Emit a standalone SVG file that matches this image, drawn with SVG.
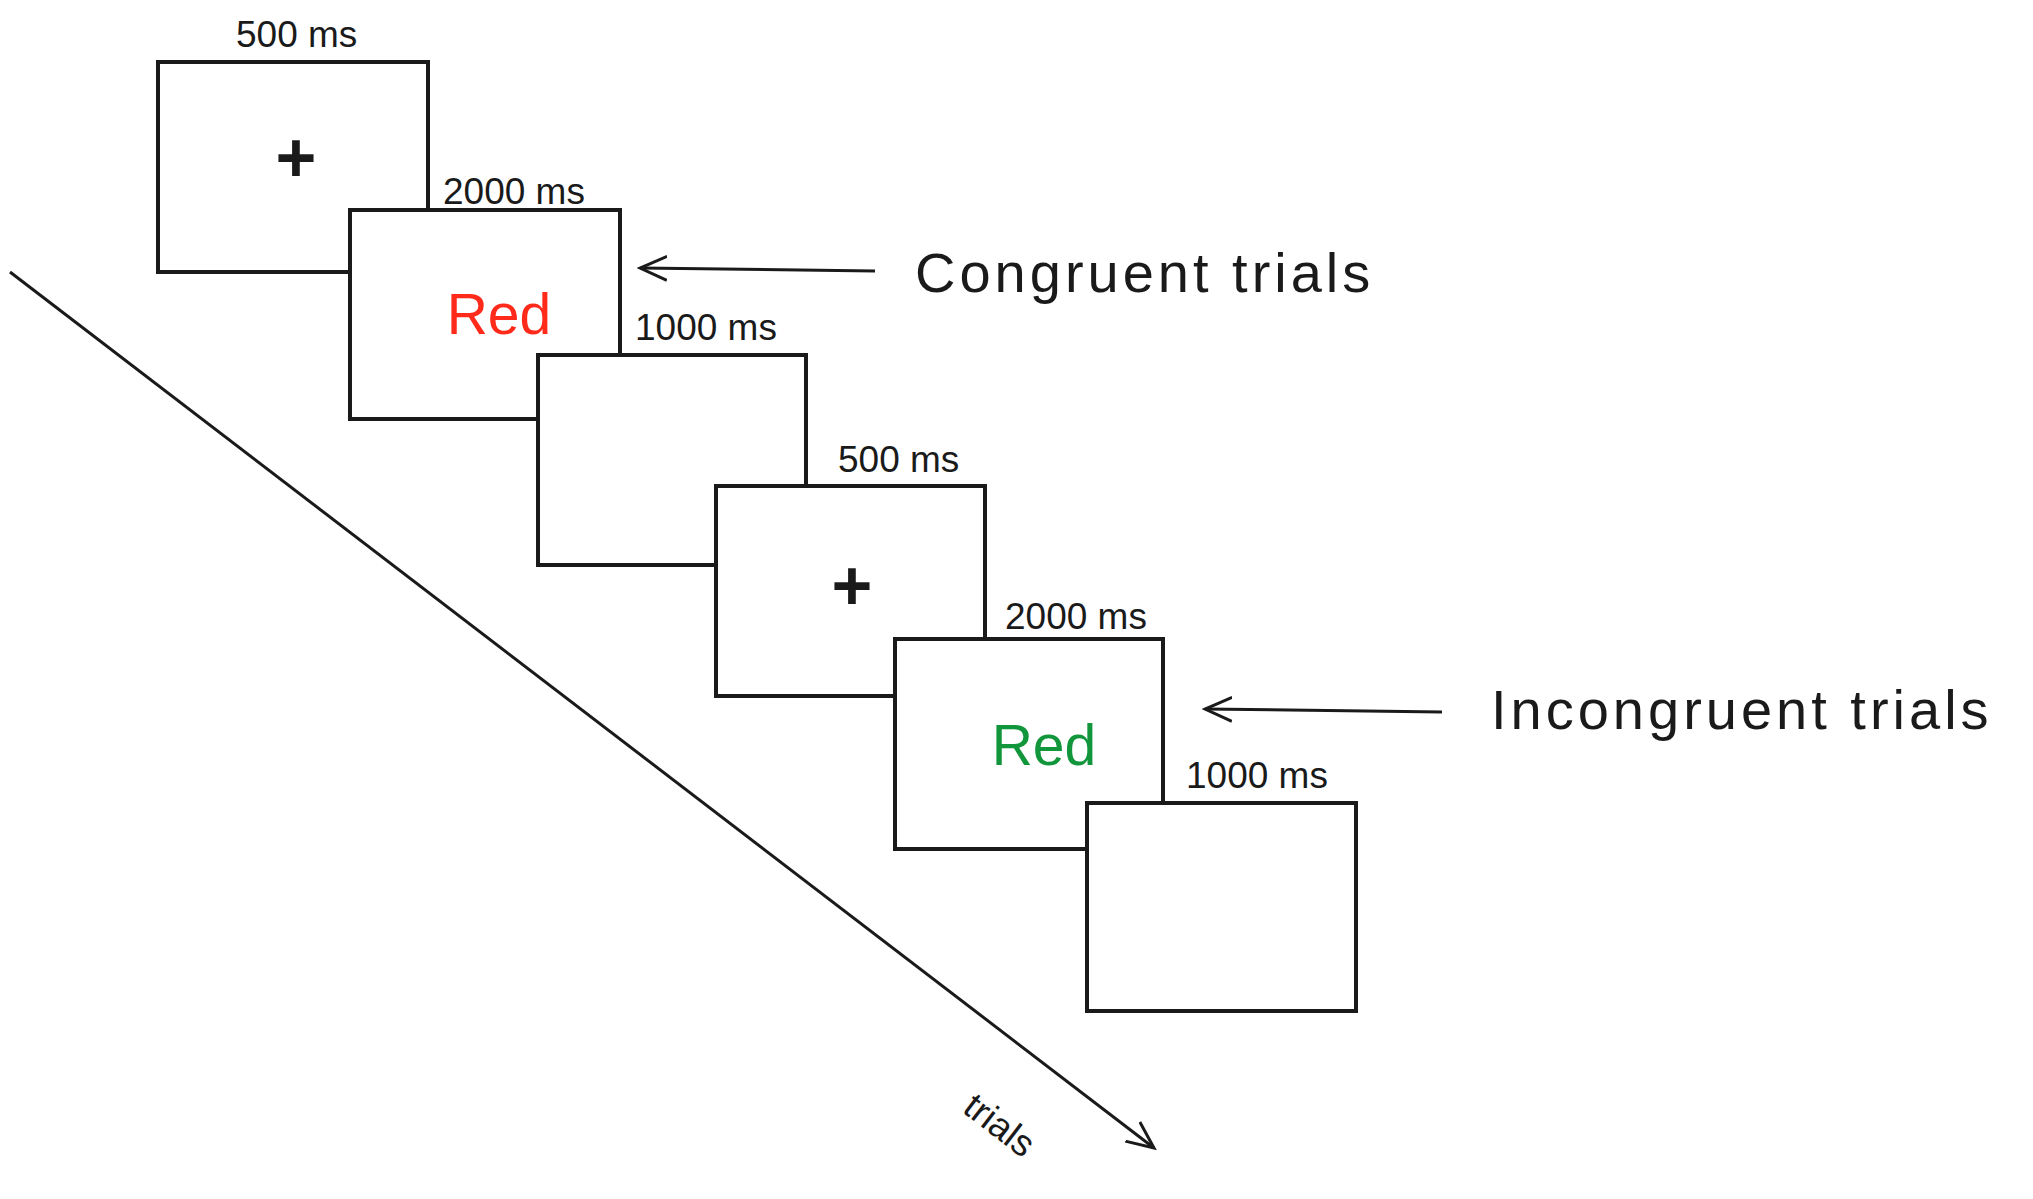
<svg xmlns="http://www.w3.org/2000/svg" width="2033" height="1199" viewBox="0 0 2033 1199">
<style>
.box{fill:#fff;stroke:#1a1a1a;stroke-width:4}
.t{font-family:"Liberation Sans",Arial,sans-serif;font-size:37px;fill:#1a1a1a}
.big{font-family:"Liberation Sans",Arial,sans-serif;font-size:56px;letter-spacing:4px;fill:#1a1a1a}
.plus{font-family:"Liberation Sans",Arial,sans-serif;font-size:70px;font-weight:bold;fill:#1a1a1a;text-anchor:middle}
.ln{stroke:#1a1a1a;stroke-width:3;fill:none}
</style>
<defs><marker id="a" viewBox="0 0 20 20" refX="18" refY="10" markerWidth="14" markerHeight="14" markerUnits="userSpaceOnUse" orient="auto"><path d="M0,2 L18,10 L0,18" fill="none" stroke="#1a1a1a" stroke-width="2.5"/></marker>
<marker id="b" viewBox="0 0 20 20" refX="18" refY="10" markerWidth="30" markerHeight="30" markerUnits="userSpaceOnUse" orient="auto"><path d="M0,2 L18,10 L0,18" fill="none" stroke="#1a1a1a" stroke-width="2"/></marker></defs>
<g id="connectors">
<line class="ln" x1="10" y1="272" x2="1154" y2="1148" marker-end="url(#b)"/>
<line class="ln" x1="875" y1="271" x2="640" y2="268" marker-end="url(#b)"/>
<line class="ln" x1="1442" y1="712" x2="1205" y2="709" marker-end="url(#b)"/>
</g>
<g id="box1"><rect class="box" x="158" y="62" width="270" height="210"/><text class="plus" x="296" y="182">+</text><text class="t" x="236" y="47">500 ms</text></g>
<g id="box2"><rect class="box" x="350" y="210" width="270" height="209"/><text x="499" y="334" font-family="Liberation Sans,Arial,sans-serif" font-size="57" fill="#ff2a1a" text-anchor="middle">Red</text><text class="t" x="443" y="204">2000 ms</text></g>
<g id="box3"><rect class="box" x="538" y="355" width="268" height="210"/><text class="t" x="635" y="340">1000 ms</text></g>
<g id="box4"><rect class="box" x="716" y="486" width="269" height="210"/><text class="plus" x="852" y="610">+</text><text class="t" x="838" y="472">500 ms</text></g>
<g id="box5"><rect class="box" x="895" y="639" width="268" height="210"/><text x="1044" y="765" font-family="Liberation Sans,Arial,sans-serif" font-size="57" fill="#12963c" text-anchor="middle">Red</text><text class="t" x="1005" y="629">2000 ms</text></g>
<g id="box6"><rect class="box" x="1087" y="803" width="269" height="208"/><text class="t" x="1186" y="788">1000 ms</text></g>
<text class="big" x="915" y="292">Congruent trials</text>
<text class="big" x="1491" y="729">Incongruent trials</text>
<text class="t" font-size="48" transform="translate(992,1135) rotate(37.4)" text-anchor="middle">trials</text>
</svg>
